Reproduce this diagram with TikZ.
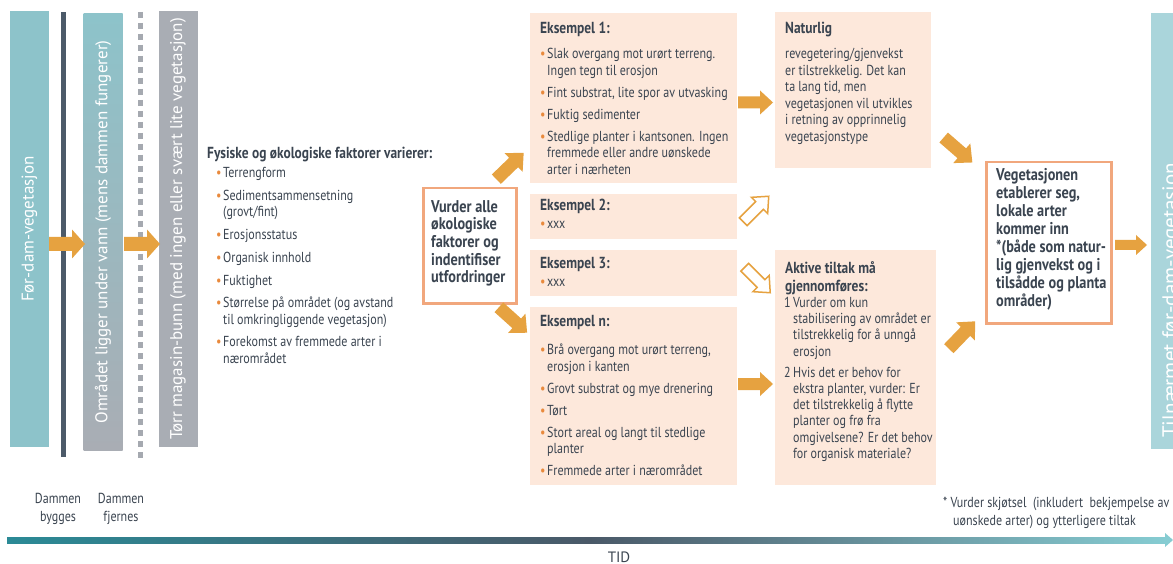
\documentclass[tikz,border=0pt]{standalone}
\usepackage{fontspec}
\setmainfont{PT Sans}
\newfontfamily\condf[FakeStretch=0.83]{PT Sans}
\newfontfamily\headf[FakeStretch=0.84]{PT Sans}
\usetikzlibrary{calc}

\definecolor{ink}{HTML}{3A4450}
\definecolor{arrorange}{HTML}{E6A240}
\definecolor{bulletc}{HTML}{E98A3D}
\definecolor{peach}{HTML}{FDE8DB}
\definecolor{boxline}{HTML}{F1A77D}
\definecolor{tealA}{HTML}{8DC3CA}
\definecolor{tealR}{HTML}{AAD5DB}
\definecolor{greyB}{HTML}{A9ADB4}
\definecolor{slate}{HTML}{4C5A69}
\definecolor{dashg}{HTML}{A5A9B0}
\definecolor{tlL}{HTML}{2B8A96}
\definecolor{tlM}{HTML}{4A5968}
\definecolor{tlR}{HTML}{86CCD2}

\newcommand{\bulit}{\makebox[7pt][l]{\textcolor{bulletc}{\textbullet}}}
\newcommand{\bulcont}{\hspace*{7pt}}
\newcommand{\numit}[1]{\makebox[9pt][l]{#1}}

% block arrow: [style]{centre}{angle}{length}{shaft half width}{head half width}{head length}
\newcommand{\blockarrow}[7][]{%
  \begin{scope}[shift={#2}, rotate=#3]
    \path[#1] ({-#4/2},{-#5}) -- ({#4/2-#7},{-#5}) -- ({#4/2-#7},{-#6}) -- ({#4/2},0)
      -- ({#4/2-#7},{#6}) -- ({#4/2-#7},{#5}) -- ({-#4/2},{#5}) -- cycle;
  \end{scope}}

\tikzset{
  phasebar/.style={rectangle, inner sep=0pt, minimum width=436pt, minimum height=39pt,
    text=white, font=\fontsize{17}{20}\selectfont, rotate=90},
  exbox/.style={rectangle, fill=peach, inner sep=0pt, anchor=north west},
  keybox/.style={rectangle, draw=boxline, line width=2.5pt, fill=white, inner sep=0pt, anchor=north west},
  bodytext/.style={inner sep=0pt, anchor=north west, align=left, text=ink,
    font=\condf\fontsize{14.5}{16.5}\selectfont},
  headtext/.style={inner sep=0pt, anchor=north west, align=left, text=ink,
    font=\headf\bfseries\fontsize{16}{18}\selectfont},
  keytext/.style={inner sep=0pt, anchor=north west, align=left, text=ink,
    font=\headf\bfseries\fontsize{17}{17.7}\selectfont},
  smalltext/.style={inner sep=0pt, text=ink, font=\condf\fontsize{14.5}{18}\selectfont},
  solidarrow/.style={fill=arrorange},
  openarrow/.style={draw=arrorange, fill=white, line width=1.5pt, line join=miter},
}

\begin{document}
\begin{tikzpicture}[x=1pt,y=-1pt]
\clip (0,0) rectangle (1173,564);
\fill[white] (0,0) rectangle (1173,564);

% ---- phases along the time axis ----
\node[phasebar, fill=tealA] (b1) at (29.5,229) {Før-dam-vegetasjon};
\fill[slate] (61,12) rectangle (66,457);
\node[phasebar, top color=tealA, bottom color=greyB] (b2) at (103,232) {Området ligger under vann (mens dammen fungerer)};
\draw[dashg, line width=5pt, dash pattern=on 6pt off 5pt] (140.5,12) -- (140.5,462);
\node[phasebar, fill=greyB] (b3) at (178,229) {Tørr magasin-bunn (med ingen eller svært lite vegetasjon)};

\fill[tealR] (1151,13) rectangle (1190,449);
\node[rotate=90, anchor=north west, inner sep=0pt, text=white, font=\fontsize{21}{24}\selectfont] (b4) at (1162,438) {Tilnærmet før-dam-vegetasjon};

\node[smalltext, align=center] (lbl1) at (58,509) {Dammen\\bygges};
\node[smalltext, align=center] (lbl2) at (121,509) {Dammen\\fjernes};

% ---- factors ----
\node[headtext] (fyst) at (207,146) {\strut Fysiske og økologiske faktorer varierer:};
\node[bodytext] (fysb) at (216,166) {\strut\bulit Terrengform\\[6.2pt]
\bulit Sedimentsammensetning\\
\bulcont (grovt/fint)\\[6.2pt]
\bulit Erosjonsstatus\\[6.2pt]
\bulit Organisk innhold\\[6.2pt]
\bulit Fuktighet\\[6.2pt]
\bulit Størrelse på området (og avstand\\
\bulcont til omkringliggende vegetasjon)\\[6.2pt]
\bulit Forekomst av fremmede arter i\\
\bulcont nærområdet};

\node[keybox, minimum width=93pt, minimum height=115pt] (vurd) at (422,187) {};
\node[keytext] (vurdt) at (431,199.6) {\strut Vurder alle\\økologiske\\faktorer og\\indentifiser\\utfordringer};

% ---- examples ----
\node[exbox, minimum width=207pt, minimum height=170pt] (ex1) at (530,13) {};
\node[headtext] (ex1t) at (540,20.9) {\strut Eksempel 1:};
\node[bodytext] (ex1b) at (540,47) {\strut\bulit Slak overgang mot urørt terreng.\\
\bulcont Ingen tegn til erosjon\\[5.5pt]
\bulit Fint substrat, lite spor av utvasking\\[5.5pt]
\bulit Fuktig sedimenter\\[5.5pt]
\bulit Stedlige planter i kantsonen. Ingen\\
\bulcont fremmede eller andre uønskede\\
\bulcont arter i nærheten};

\node[exbox, minimum width=207pt, minimum height=45pt] (ex2) at (530,194) {};
\node[headtext] (ex2t) at (540,197.4) {\strut Eksempel 2:};
\node[bodytext] (ex2b) at (540,217) {\strut\bulit xxx};

\node[exbox, minimum width=207pt, minimum height=46pt] (ex3) at (530,250) {};
\node[headtext] (ex3t) at (540,255.4) {\strut Eksempel 3:};
\node[bodytext] (ex3b) at (540,275) {\strut\bulit xxx};

\node[exbox, minimum width=207pt, minimum height=178pt] (exn) at (530,307) {};
\node[headtext] (exnt) at (540,313.4) {\strut Eksempel n:};
\node[bodytext] (exnb) at (540,343) {\strut\bulit Brå overgang mot urørt terreng,\\
\bulcont erosjon i kanten\\[5.5pt]
\bulit Grovt substrat og mye drenering\\[5.5pt]
\bulit Tørt\\[5.5pt]
\bulit Stort areal og langt til stedlige\\
\bulcont planter\\[5.5pt]
\bulit Fremmede arter i nærområdet};

% ---- outcomes ----
\node[exbox, minimum width=156pt, minimum height=156pt] (nat) at (775,12) {};
\node[headtext] (natt) at (785,20.4) {\strut Naturlig};
\node[bodytext] (natb) at (785,47) {\strut revegetering/gjenvekst\\er tilstrekkelig. Det kan\\ta lang tid, men\\vegetasjonen vil utvikles\\i retning av opprinnelig\\vegetasjonstype};

\node[exbox, minimum width=161pt, minimum height=235pt] (akt) at (775,250) {};
\node[headtext] (aktt) at (785,260.4) {\strut Aktive tiltak må\\gjennomføres:};
\node[bodytext, font=\condf\fontsize{14.5}{16.2}\selectfont] (aktb) at (784,296) {\strut\numit{1}Vurder om kun\\
\numit{}stabilisering av området er\\
\numit{}tilstrekkelig for å unngå\\
\numit{}erosjon\\[5pt]
\numit{2}Hvis det er behov for\\
\numit{}ekstra planter, vurder: Er\\
\numit{}det tilstrekkelig å flytte\\
\numit{}planter og frø fra\\
\numit{}omgivelsene? Er det behov\\
\numit{}for organisk materiale?};

\node[keybox, minimum width=125pt, minimum height=161pt] (veg) at (985,161) {};
\node[keytext, font=\headf\bfseries\fontsize{17}{18}\selectfont] (vegt) at (996,167.4) {\strut Vegetasjonen\\etablerer seg,\\lokale arter\\kommer inn\\*(både som natur-\\lig gjenvekst og i\\tilsådde og planta\\områder)};

% ---- arrows ----
\coordinate (aA) at (67,244);
\coordinate (aB) at (142,244);
\coordinate (aC) at (510,166);
\coordinate (aD) at (513,320);
\coordinate (aE) at (755.5,102.5);
\coordinate (aF) at (756,209);
\coordinate (aG) at (757.5,280);
\coordinate (aH) at (755.5,384);
\coordinate (aI) at (958,150);
\coordinate (aJ) at (962,335);
\coordinate (aK) at (1131,245);
\blockarrow[solidarrow]{(aA)}{0}{36}{7}{14.5}{13}
\blockarrow[solidarrow]{(aB)}{0}{36}{7}{14.5}{13}
\blockarrow[solidarrow]{(aC)}{44}{38}{6.5}{13}{14}
\blockarrow[solidarrow]{(aD)}{-42}{38}{6.5}{13}{14}
\blockarrow[solidarrow]{(aE)}{0}{35}{6}{12}{13}
\blockarrow[openarrow]{(aF)}{45}{36}{5.5}{11.5}{13}
\blockarrow[openarrow]{(aG)}{-45}{36}{5.5}{11.5}{13}
\blockarrow[solidarrow]{(aH)}{0}{35}{6}{12}{13}
\blockarrow[solidarrow]{(aI)}{-41}{38}{6.5}{13}{14}
\blockarrow[solidarrow]{(aJ)}{46}{38}{6.5}{13}{14}
\blockarrow[solidarrow]{(aK)}{0}{32}{5}{10}{11}

% ---- time axis ----
\shade[left color=tlL, right color=tlM] (7,537) rectangle (590,543);
\shade[left color=tlM, right color=tlR] (589.5,537) rectangle (1166,543);
\fill[tlR] (1165,533) -- (1173,540) -- (1165,547) -- cycle;
\node[inner sep=0pt, text=ink, font=\fontsize{15}{18}\selectfont] (tid) at (619,557) {TID};

\node[smalltext, anchor=north west, align=left, font=\condf\fontsize{14.5}{18}\selectfont] (foot) at (943,494.9) {\strut * Vurder skjøtsel\ \ (inkludert\ \ bekjempelse av\\\hspace*{10pt}uønskede arter) og ytterligere tiltak};
\end{tikzpicture}
\end{document}
